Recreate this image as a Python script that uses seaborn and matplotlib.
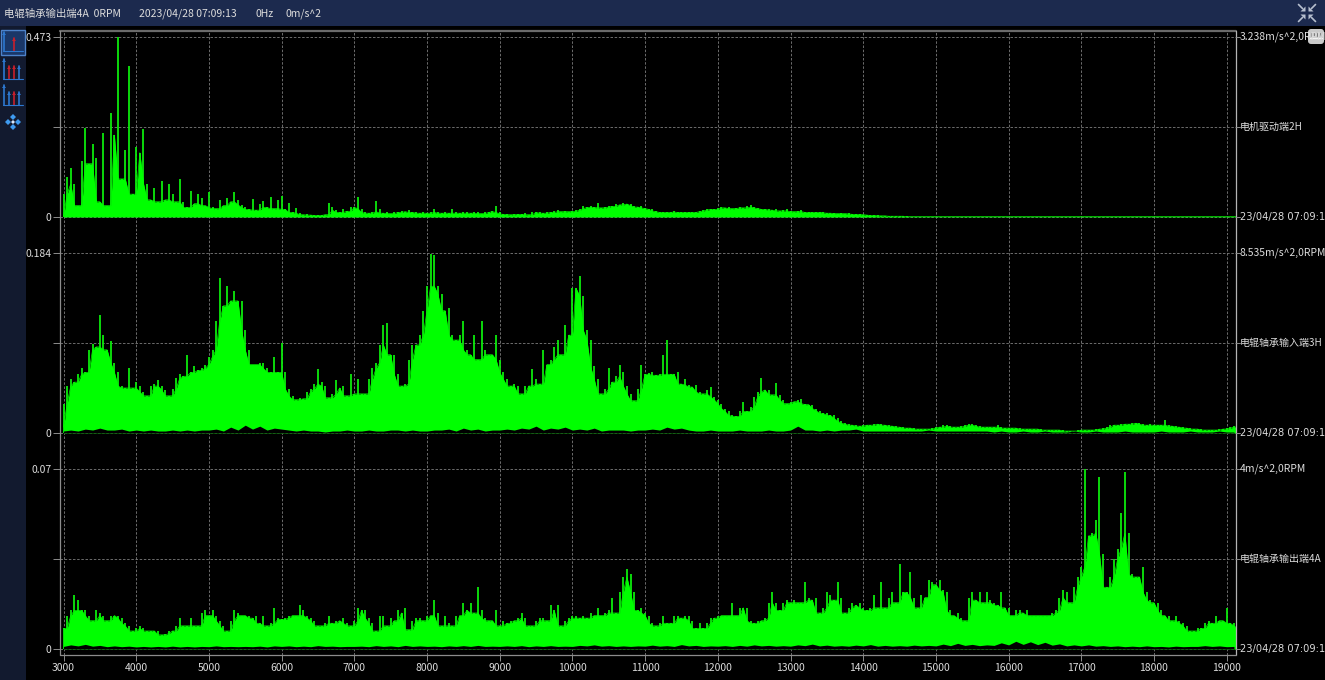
import numpy as np
import seaborn as sns
import matplotlib
matplotlib.use("Agg")
import matplotlib.pyplot as plt
from matplotlib.patches import Rectangle, FancyBboxPatch, Polygon

# Amplitude envelopes, in 1e-3 m/s^2, one value per 50 Hz from 3000 Hz.
FREQ_START = 3000
FREQ_STEP = 50
motor_2h = [
    60, 106, 130, 87, 30, 148, 235, 140, 192, 154, 40, 220, 30, 274, 215, 473, 100, 176, 397, 60, 183,
    169, 231, 88, 45, 75, 40, 95, 45, 87, 60, 40, 99, 40, 25, 69, 35, 60, 49, 30, 65,
    25, 22, 45, 30, 49, 40, 67, 45, 32, 25, 20, 47, 18, 35, 43, 25, 52, 22, 45, 55,
    20, 38, 12, 23, 10, 6, 7, 5, 5, 4, 6, 6, 36, 25, 18, 12, 20, 15, 27, 25,
    53, 22, 12, 10, 14, 42, 20, 10, 12, 9, 14, 12, 17, 14, 18, 12, 14, 10, 14, 10,
    14, 20, 12, 10, 14, 10, 22, 12, 10, 12, 14, 10, 14, 12, 9, 12, 14, 16, 30, 12,
    8, 7, 6, 7, 8, 7, 10, 6, 12, 14, 12, 10, 14, 12, 15, 18, 14, 16, 14, 15,
    18, 22, 30, 25, 28, 25, 36, 24, 26, 30, 28, 34, 32, 36, 34, 34, 30, 26, 30, 24,
    22, 20, 16, 14, 12, 12, 14, 15, 13, 12, 14, 13, 12, 14, 16, 18, 20, 22, 20, 24,
    26, 24, 26, 22, 24, 26, 24, 28, 32, 26, 24, 22, 20, 22, 18, 20, 16, 18, 20, 16,
    14, 16, 18, 14, 12, 13, 12, 14, 12, 11, 10, 10, 9, 10, 9, 10, 8, 7, 9, 6,
    6, 5, 4, 4, 3, 3, 3, 2, 2, 2, 2, 2, 1, 1, 1, 1, 1, 1, 1, 1,
    1, 1, 1, 1, 1, 1, 1, 1, 1, 1, 1, 1, 1, 1, 1, 1, 1, 1, 1, 1,
    1, 1, 1, 1, 1, 1, 1, 1, 1, 1, 1, 1, 1, 1, 1, 1, 1, 1, 1, 1,
    1, 1, 1, 1, 1, 1, 1, 1, 1, 1, 1, 1, 1, 1, 1, 1, 1, 1, 1, 1,
    1, 1, 1, 1, 1, 1, 1, 1, 1, 1, 1, 1, 1, 1, 1, 1, 1, 1, 1, 1,
    1, 1, 1,
]
input_3h = [
    30, 48, 55, 52, 60, 66, 62, 85, 91, 88, 121, 100, 85, 94, 72, 62, 48, 46, 66, 46, 52,
    48, 42, 38, 48, 50, 54, 48, 44, 38, 45, 56, 60, 58, 80, 62, 68, 64, 66, 70, 78,
    85, 115, 158, 130, 150, 135, 145, 135, 135, 105, 85, 70, 70, 72, 72, 66, 62, 78, 62, 92,
    62, 45, 38, 34, 36, 35, 42, 45, 50, 65, 52, 48, 36, 40, 54, 46, 48, 38, 60, 40,
    55, 40, 40, 55, 66, 72, 90, 110, 112, 80, 80, 60, 48, 50, 75, 90, 90, 100, 125, 150,
    183, 182, 150, 142, 125, 128, 100, 95, 100, 115, 85, 80, 100, 75, 115, 85, 80, 80, 100, 75,
    62, 55, 48, 50, 48, 40, 48, 48, 65, 55, 50, 85, 70, 75, 88, 95, 80, 110, 100, 148,
    148, 160, 140, 105, 95, 68, 55, 40, 45, 66, 52, 58, 70, 62, 48, 40, 33, 45, 70, 60,
    61, 62, 59, 60, 80, 95, 60, 60, 62, 50, 55, 49, 47, 49, 42, 40, 44, 47, 37, 34,
    30, 25, 22, 18, 17, 23, 32, 22, 27, 37, 42, 56, 44, 44, 39, 51, 39, 34, 30, 32,
    32, 34, 35, 30, 29, 29, 25, 23, 20, 20, 18, 18, 15, 12, 10, 9, 8, 8, 7, 8,
    8, 8, 9, 9, 9, 8, 8, 7, 7, 6, 6, 5, 5, 5, 4, 4, 4, 4, 5, 6,
    6, 8, 8, 7, 6, 6, 7, 8, 9, 9, 8, 7, 6, 6, 6, 6, 8, 6, 5, 5,
    5, 5, 5, 4, 4, 4, 4, 4, 4, 3, 3, 3, 3, 3, 3, 2, 2, 2, 3, 3,
    3, 3, 3, 4, 4, 5, 6, 8, 8, 8, 9, 9, 9, 10, 10, 10, 9, 8, 9, 8,
    8, 8, 13, 8, 7, 7, 6, 6, 5, 5, 4, 4, 4, 3, 3, 3, 3, 4, 4, 5,
    6, 7, 6,
]
output_4a = [
    8, 13, 15, 21, 19, 15, 15, 13, 11, 15, 14, 13, 11, 13, 13, 13, 12, 10, 9, 7, 8,
    9, 8, 7, 7, 7, 7, 5.5, 6, 7, 7, 9, 12, 9, 9, 12, 9, 9, 14, 15, 13,
    15, 13, 11, 9, 7, 11, 15, 14, 13, 13, 13, 12, 13, 10, 13, 9, 10, 16, 12, 11.5,
    12, 13, 13, 13, 17, 15, 13, 12, 11, 9, 9, 10, 13, 10, 11, 11, 12, 10, 9, 11,
    16, 15, 15, 12, 10, 7, 13, 13, 9, 12, 11, 15, 14, 16, 7.5, 11, 12, 12, 11, 13,
    13, 19, 14, 9, 13, 10, 9, 13, 13, 18, 15, 18, 14, 24, 15, 12, 11, 11, 15, 9,
    11, 10, 11, 11, 12, 14, 12, 9, 9, 11, 12, 12, 11, 17, 15, 17, 9, 11, 12, 13,
    13, 12, 13, 12, 14, 13, 16, 13, 14, 15, 20, 14, 22, 28, 31, 29, 22, 15, 16, 14,
    13, 10, 9, 10, 13, 10, 10, 13, 13, 12, 13, 13, 11, 8, 10, 8, 10, 12, 12, 13,
    13, 13, 13, 18, 13, 16, 16, 16, 11, 10, 11, 11, 12, 18, 22, 18, 15, 18, 19, 18,
    19, 18, 18, 26, 20, 19, 20, 14, 16, 22, 21, 19, 26, 20, 14, 16, 18, 17, 18, 16,
    15, 16, 21, 16, 26, 16, 20, 22, 18, 33, 22, 22, 30, 20, 16, 21, 20, 27, 26, 25,
    27, 23, 22, 15, 13, 14, 12, 11, 20, 22, 19, 22, 18, 22, 19, 18, 17, 22, 16, 16,
    13, 15, 15, 14, 15, 13, 13, 13, 13, 13, 13, 14, 15, 20, 23, 22, 18, 24, 28, 32,
    70, 44, 45, 50, 67, 37, 24, 28, 35, 39, 53, 69, 45, 29, 28, 28, 32, 22, 19, 18,
    18, 15, 13, 13, 11, 13, 11, 10, 9, 7, 7, 8, 8, 10, 11, 10, 13, 11, 11, 16,
    10, 10, 9,
]

# Height of the dark band under the green fill, one value per 100 Hz from 3000 Hz.
FLOOR_STEP = 100
floor_3h = [
    2, 3, 2, 4, 3, 5, 3, 3, 4, 2, 3, 2, 3, 2, 2, 3, 2, 3, 2, 3,
    3, 4, 2, 6, 3, 8, 4, 7, 3, 5, 4, 3, 2, 3, 2, 2, 1, 2, 2, 3,
    2, 2, 3, 2, 2, 3, 3, 2, 3, 2, 2, 3, 3, 4, 2, 5, 3, 4, 2, 3,
    3, 4, 3, 5, 4, 7, 3, 5, 4, 6, 3, 4, 3, 5, 2, 3, 3, 3, 2, 3,
    3, 4, 3, 6, 4, 5, 3, 2, 2, 3, 2, 2, 2, 3, 2, 2, 2, 3, 2, 2,
    3, 7, 3, 3, 2, 3, 2, 3, 3, 4, 2, 2, 2, 2, 2, 2, 2, 2, 2, 3,
    2, 2, 2, 2, 2, 2, 2, 2, 1, 2, 1, 1, 2, 1, 1, 2, 1, 1, 1, 2,
    1, 1, 2, 1, 1, 1, 2, 1, 1, 1, 1, 2, 1, 1, 1, 2, 1, 1, 1, 2, 1, 1,
]
floor_4a = [
    1.0, 1.6, 1.2, 1.8, 1.1, 1.4, 0.9, 1.2, 0.9, 1.1, 0.8, 1.0, 0.8, 1.0, 0.8, 1.1, 0.8, 1.0, 0.8, 1.0,
    0.9, 1.2, 0.9, 1.0, 0.9, 1.0, 0.9, 1.1, 0.8, 1.2, 1.0, 1.2, 0.9, 1.1, 0.9, 1.3, 1.0, 1.1, 0.9, 1.0,
    1.0, 1.1, 0.9, 1.3, 1.0, 1.2, 0.9, 1.4, 1.0, 1.2, 1.0, 1.1, 0.9, 1.2, 1.0, 1.3, 1.0, 1.4, 1.0, 1.1,
    1.0, 1.2, 1.0, 1.3, 0.9, 1.2, 1.0, 1.3, 1.0, 1.1, 1.0, 1.4, 1.2, 1.6, 1.1, 1.3, 1.0, 1.2, 1.0, 1.2,
    1.1, 1.5, 1.1, 1.3, 1.0, 1.7, 1.2, 1.4, 1.0, 1.2, 1.1, 1.3, 1.0, 1.4, 1.1, 1.6, 1.2, 1.4, 1.1, 1.3,
    1.1, 1.6, 1.3, 1.9, 1.2, 1.5, 1.1, 1.3, 1.1, 1.5, 1.2, 1.7, 1.1, 1.4, 1.1, 1.3, 1.1, 1.5, 1.2, 1.4,
    1.2, 1.9, 1.3, 2.2, 1.4, 1.8, 1.3, 1.6, 1.4, 2.4, 1.6, 3.0, 1.8, 2.8, 1.7, 2.6, 1.5, 2.0, 1.2, 1.6,
    1.2, 1.6, 1.1, 1.3, 1.0, 1.2, 0.9, 1.1, 0.9, 1.2, 0.9, 1.0, 0.8, 1.1, 0.9, 1.0, 1.0, 1.3, 1.0, 1.2, 0.9, 1.0,
]

x_ticks = [3000, 4000, 5000, 6000, 7000, 8000, 9000, 10000, 11000, 12000,
           13000, 14000, 15000, 16000, 17000, 18000, 19000]
y_max_values = [0.473, 0.184, 0.07]
y_max_labels = ["0.473", "0.184", "0.07"]
scale_labels = ["3.238m/s^2,0RPM", "8.535m/s^2,0RPM", "4m/s^2,0RPM"]
channel_labels = ["电机驱动端2H", "电辊轴承输入端3H", "电辊轴承输出端4A"]
time_label = "23/04/28 07:09:13"
header_texts = ["电辊轴承输出端4A  0RPM", "2023/04/28 07:09:13", "0Hz", "0m/s^2"]

W, H = 1325, 680
sns.set_theme(style="dark")
plt.rcParams["font.family"] = ["Noto Sans CJK SC", "DejaVu Sans"]
TXT = "#dcdcdc"
GREEN = "#00ff00"
SPIKE = "#0cea0c"
GRID = "#7d7d7d"
FRAME = "#8c8c8c"

fig = plt.figure(figsize=(W / 100, H / 100), dpi=100, facecolor="#000000")

bg = fig.add_axes([0, 0, 1, 1], zorder=0)
bg.set_xlim(0, W); bg.set_ylim(H, 0); bg.axis("off")
bg.add_patch(Rectangle((0, 0), W, 26, color="#1c2a4e", lw=0))
bg.add_patch(Rectangle((0, 26), 26, H - 26, color="#121a2f", lw=0))

LEFT, RIGHT = 60, 1236
panels = [(31, 37, 217, 235), (235, 253, 433, 451), (451, 469, 649, 655)]
series = [motor_2h, input_3h, output_4a]
floors = [None, floor_3h, floor_4a]
px_per_hz = 0.0727
xlim = (FREQ_START + (LEFT - 63.5) / px_per_hz, FREQ_START + (RIGHT - 63.5) / px_per_hz)

axes = []
for i, (top, pmax, pzero, bottom) in enumerate(panels):
    ax = fig.add_axes([LEFT / W, 1 - bottom / H, (RIGHT - LEFT) / W, (bottom - top) / H], zorder=1)
    ax.set_facecolor("#000000")
    ymax = y_max_values[i]
    per_px = ymax / (pzero - pmax)
    ax.set_ylim(-(bottom - pzero) * per_px, (pzero - top) * per_px)
    ax.set_xlim(*xlim)
    for s in ax.spines.values():
        s.set_visible(False)

    amp = np.array(series[i], dtype=float) / 1000
    freq = FREQ_START + FREQ_STEP * np.arange(len(amp))
    # solid mass follows the lowest of three neighbouring bins; every bin stands as a thin line above it
    body = np.minimum.reduce([np.roll(amp, 1), amp, np.roll(amp, -1)])
    ax.fill_between(freq, 0, body, color=GREEN, lw=0, zorder=3)
    ax.vlines(freq, 0, amp, color=SPIKE, lw=1.3, zorder=2.5)
    sns.lineplot(x=freq, y=body, ax=ax, color=GREEN, lw=0.5, estimator=None, zorder=3)

    if floors[i] is not None:
        fl = np.array(floors[i], dtype=float) / 1000
        ff = FREQ_START + FLOOR_STEP * np.arange(len(fl))
        ax.fill_between(ff, 0, fl, color="#000000", lw=0, zorder=4)

    ax.set_xticks(x_ticks)
    ax.set_yticks([0, ymax / 2, ymax])
    ax.grid(True, color=GRID, lw=0.6, ls=(0, (3, 2)), zorder=1)
    ax.set_axisbelow(True)
    ax.set_yticklabels(["0", "", y_max_labels[i]], color=TXT, fontsize=7.5)
    ax.tick_params(axis="y", length=5, width=0.7, color=FRAME, pad=1, left=True)
    if i == 2:
        ax.set_xticklabels([str(t) for t in x_ticks], color=TXT, fontsize=7.5)
        ax.tick_params(axis="x", length=4, width=0.7, color=FRAME, pad=1.5, bottom=True)
    else:
        ax.tick_params(axis="x", length=0, labelbottom=False)
    ax.set_xlabel(""); ax.set_ylabel("")
    axes.append(ax)

top_ax = fig.add_axes([0, 0, 1, 1], zorder=5)
top_ax.set_xlim(0, W); top_ax.set_ylim(H, 0); top_ax.axis("off"); top_ax.patch.set_alpha(0)

top_ax.plot([LEFT, RIGHT], [31, 31], color="#6a6a6a", lw=1.6)
top_ax.plot([LEFT, LEFT], [31, 655], color=FRAME, lw=0.9)
top_ax.plot([RIGHT, RIGHT], [31, 655], color="#b4b4b4", lw=0.9)
top_ax.plot([LEFT, RIGHT], [655, 655], color=FRAME, lw=0.9)

for i, (top, pmax, pzero, bottom) in enumerate(panels):
    pmid = (pmax + pzero) / 2
    for yy, label, fam, fs in [(pmax, scale_labels[i], None, 7.5), (pmid, channel_labels[i], None, 7.2),
                               (pzero, time_label, "DejaVu Sans", 7.1)]:
        top_ax.plot([RIGHT, RIGHT + 4], [yy, yy], color=FRAME, lw=0.7)
        kw = {"family": fam} if fam else {}
        top_ax.text(RIGHT + 4, yy, label, color=TXT, fontsize=fs, va="center", ha="left", **kw)

for x0, label in zip([4, 139, 255, 286], header_texts):
    top_ax.text(x0, 14, label, color=TXT, fontsize=7.5, va="center", ha="left")

# ruler badge
top_ax.add_patch(FancyBboxPatch((1309, 30), 14, 13, boxstyle="round,pad=1,rounding_size=3", fc="#c9c9c9", ec="none"))
for xx in [1311, 1314, 1317, 1320]:
    top_ax.plot([xx, xx], [33, 36], color="#7c7c7c", lw=0.7)
top_ax.plot([1310, 1322], [38, 38], color="#f2f2f2", lw=1)

# collapse icon
for sx, sy in [(-1, -1), (1, -1), (-1, 1), (1, 1)]:
    cx, cy = 1307 + sx * 1.5, 13 + sy * 1.5
    top_ax.add_patch(Polygon([(cx, cy), (cx + sx * 5, cy), (cx, cy + sy * 5)], fc="#b6bfcf", ec="none"))
    top_ax.plot([cx + sx * 3, cx + sx * 7], [cy + sy * 3, cy + sy * 7], color="#b6bfcf", lw=1.2)

# sidebar icons
top_ax.add_patch(Rectangle((1, 30), 24, 25, fc="#1a3768", ec="#4d82c9", lw=1))


def stem(x0, y0, y1, color):
    top_ax.plot([x0, x0], [y0, y1], color=color, lw=1.2)
    top_ax.add_patch(Polygon([(x0 - 2, y1 + 3), (x0 + 2, y1 + 3), (x0, y1)], fc=color, ec="none"))


stem(4, 51, 32, "#2d78d0"); stem(14, 51, 38, "#c8202c")
top_ax.plot([3, 23], [51, 51], color="#2d78d0", lw=0.8)
for yb, colors in [(79, ("#c8202c", "#c8202c", "#2d78d0")), (105, ("#2d78d0", "#c8202c", "#2d78d0"))]:
    stem(4, yb, yb - 20, "#2d78d0")
    for xx, col in zip((9, 14, 19), colors):
        stem(xx, yb, yb - 13, col)
    top_ax.plot([3, 23], [yb, yb], color="#2d78d0", lw=0.8)
# move icon
for dx, dy in [(-5, 0), (5, 0), (0, -5), (0, 5)]:
    cx, cy = 13 + dx, 122 + dy
    top_ax.add_patch(Polygon([(cx - 3, cy), (cx, cy - 3), (cx + 3, cy), (cx, cy + 3)], fc="#3f9bf0", ec="none"))
top_ax.add_patch(Polygon([(11, 122), (13, 120), (15, 122), (13, 124)], fc="#dbeaff", ec="none"))

fig.savefig("out.png", dpi=100, facecolor="#000000")
